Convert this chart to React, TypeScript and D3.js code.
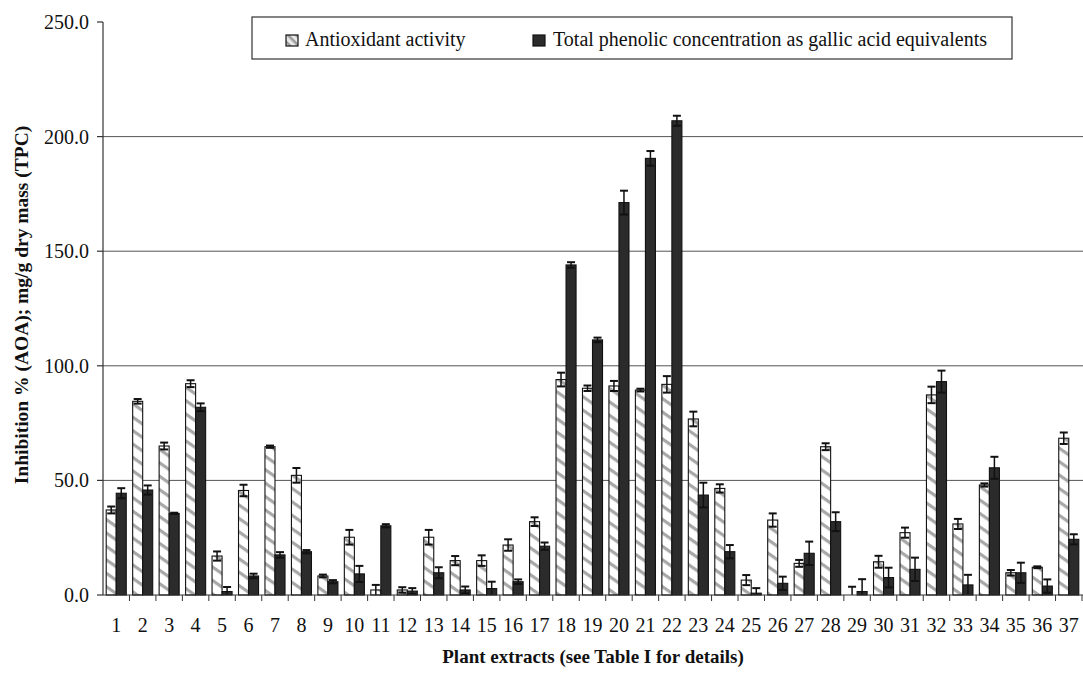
import React from "react";
import * as d3 from "d3";

const categories = ["1","2","3","4","5","6","7","8","9","10","11","12","13","14","15","16","17","18","19","20","21","22","23","24","25","26","27","28","29","30","31","32","33","34","35","36","37"];
const aoa = [37.1, 84.5, 65.0, 92.2, 17.0, 45.6, 64.7, 52.2, 8.3, 25.2, 2.2, 2.2, 25.2, 15.0, 15.0, 21.8, 32.0, 94.0, 90.2, 91.2, 89.4, 91.9, 76.8, 46.5, 6.5, 32.7, 13.8, 64.7, 0.0, 14.5, 27.2, 87.3, 31.0, 48.0, 9.7, 12.1, 68.4];
const aoaErr = [1.5, 1.0, 1.5, 1.5, 2.0, 2.5, 0.5, 3.2, 0.6, 3.2, 2.2, 1.2, 3.2, 2.0, 2.3, 2.5, 1.9, 3.0, 1.2, 2.2, 0.6, 3.6, 3.2, 1.8, 2.2, 2.9, 1.5, 1.5, 3.6, 2.6, 2.2, 3.6, 2.2, 0.7, 1.2, 0.4, 2.5];
const tpc = [44.4, 45.8, 35.6, 81.9, 1.5, 8.3, 17.5, 18.9, 5.8, 9.2, 30.2, 1.7, 9.7, 2.2, 2.8, 5.8, 21.3, 144.0, 111.3, 171.2, 190.5, 206.9, 43.6, 18.9, 0.8, 5.1, 18.2, 32.0, 1.5, 7.6, 11.2, 93.1, 4.4, 55.5, 9.7, 3.9, 24.3];
const tpcErr = [2.2, 2.0, 0.3, 1.7, 2.0, 1.0, 1.2, 0.7, 0.7, 3.5, 0.7, 1.3, 2.4, 1.5, 3.0, 1.0, 1.6, 1.2, 1.0, 5.2, 3.2, 2.2, 5.4, 2.9, 2.2, 2.9, 5.1, 4.1, 5.4, 4.3, 5.1, 4.8, 4.4, 4.8, 4.4, 2.9, 2.2];
const yTicks = [0, 50, 100, 150, 200, 250];
const seriesNames = ["Antioxidant activity", "Total phenolic concentration as gallic acid equivalents"];
const seriesKeys = ["aoa", "tpc"];

const W = 1083, H = 673;
const FONT = "'Liberation Serif', 'Times New Roman', serif";

export default function App() {
  const x = d3.scaleBand<string>().domain(categories).range([103, 1082]).paddingInner(0).paddingOuter(0);
  const xs = d3.scaleBand<string>().domain(seriesKeys).range([0, x.bandwidth()]).paddingInner(0).paddingOuter(0.32);
  const y = d3.scaleLinear().domain([0, 250]).range([595, 22]);
  const x0 = 103, x1 = W;

  const values: Record<string, number[]> = { aoa, tpc };
  const errs: Record<string, number[]> = { aoa: aoaErr, tpc: tpcErr };
  const fills: Record<string, string> = { aoa: "url(#hatch)", tpc: "#2b2b2b" };

  return (
    <svg width={W} height={H} style={{ position: "absolute", left: 0, top: 0, background: "#fff" }} fontFamily={FONT}>
      <defs>
        <pattern id="hatch" patternUnits="userSpaceOnUse" width="11" height="11" patternTransform="rotate(35)">
          <rect x="0" y="0" width="11" height="11" fill="#fff" />
          <rect x="0" y="0" width="11" height="3.2" fill="#a8a8a8" />
        </pattern>
        <pattern id="hatchLeg" patternUnits="userSpaceOnUse" width="6" height="6" patternTransform="rotate(45)">
          <rect x="0" y="0" width="6" height="6" fill="#e8e8e8" />
          <rect x="0" y="0" width="6" height="2.5" fill="#9a9a9a" />
        </pattern>
      </defs>
      <rect x={0} y={0} width={W} height={H} fill="#fff" />

      {/* gridlines */}
      {yTicks.filter(t => t > 0 && t < 250).map(t => (
        <line key={"g" + t} x1={x0} x2={x1} y1={y(t)} y2={y(t)} stroke="#555" strokeWidth={1} />
      ))}

      {/* bars */}
      {categories.map((c, i) => (
        <g key={c}>
          {seriesKeys.map(k => {
            const v = values[k][i];
            const bx = (x(c) as number) + (xs(k) as number);
            const bw = xs.bandwidth();
            return (
              <rect key={k} x={bx} y={y(v)} width={bw} height={y(0) - y(v)} fill={fills[k]} stroke="#111" strokeWidth={1.1} />
            );
          })}
        </g>
      ))}

      {/* error bars */}
      {categories.map((c, i) => (
        <g key={"e" + c}>
          {seriesKeys.map(k => {
            const v = values[k][i];
            const e = errs[k][i];
            const cx = (x(c) as number) + (xs(k) as number) + xs.bandwidth() / 2;
            const hi = y(v + e);
            const lo = y(Math.max(0, v - e));
            const cw = 4;
            return (
              <g key={k} stroke="#111" strokeWidth={1.5}>
                <line x1={cx} x2={cx} y1={hi} y2={lo} />
                <line x1={cx - cw} x2={cx + cw} y1={hi} y2={hi} strokeWidth={2} />
                {v - e > 0 && <line x1={cx - cw} x2={cx + cw} y1={lo} y2={lo} strokeWidth={2} />}
              </g>
            );
          })}
        </g>
      ))}

      {/* axes */}
      <line x1={x0} x2={x0} y1={y(250)} y2={y(0)} stroke="#333" strokeWidth={1.2} />
      <line x1={x0} x2={x1} y1={y(0)} y2={y(0)} stroke="#333" strokeWidth={1.2} />
      {yTicks.map(t => (
        <g key={"yt" + t}>
          <line x1={x0 - 6} x2={x0} y1={y(t)} y2={y(t)} stroke="#333" strokeWidth={1.2} />
          <text x={89} y={y(t)} dy="0.35em" textAnchor="end" fontSize={20} fill="#111">{t.toFixed(1)}</text>
        </g>
      ))}
      {categories.map((c, i) => (
        <line key={"xt" + c} x1={(x(c) as number) + x.bandwidth()} x2={(x(c) as number) + x.bandwidth()} y1={y(0)} y2={y(0) + 6} stroke="#333" strokeWidth={1} />
      ))}
      {categories.map(c => (
        <text key={"xl" + c} x={(x(c) as number) + x.bandwidth() / 2} y={632} textAnchor="middle" fontSize={20} fill="#111">{c}</text>
      ))}

      {/* axis titles */}
      <text x={593} y={663} textAnchor="middle" fontSize={19} fontWeight="bold" fill="#111">Plant extracts (see Table I for details)</text>
      <text transform={`translate(28, 305) rotate(-90)`} textAnchor="middle" fontSize={19.5} fontWeight="bold" fill="#111">Inhibition % (AOA); mg/g dry mass (TPC)</text>

      {/* legend */}
      <rect x={252} y={17} width={760} height={42} fill="#fff" stroke="#333" strokeWidth={1.2} />
      <rect x={286} y={35} width={12} height={11} fill="url(#hatchLeg)" stroke="#111" strokeWidth={1.2} />
      <text x={305} y={46} fontSize={20} fill="#111">{seriesNames[0]}</text>
      <rect x={533} y={35} width={12} height={11} fill="#2b2b2b" stroke="#111" strokeWidth={1.2} />
      <text x={553} y={46} fontSize={20} fill="#111">{seriesNames[1]}</text>
    </svg>
  );
}
